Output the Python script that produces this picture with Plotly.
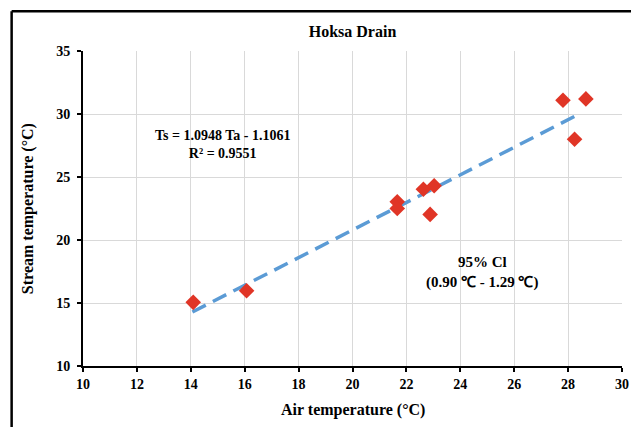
import plotly.graph_objects as go

air_temp = [14.09, 16.07, 21.66, 21.66, 22.63, 23.03, 22.88, 27.81, 28.66, 28.24]
stream_temp = [15.05, 15.97, 23.03, 22.50, 24.03, 24.30, 22.03, 31.09, 31.20, 28.00]
slope = 1.0948
intercept = -1.1061
trend_range = [14.06, 28.30]
x_ticks = list(range(10, 31, 2))
y_ticks = list(range(10, 36, 5))

FONT = "Liberation Serif"

trend_y = [slope * x + intercept for x in trend_range]

fig = go.Figure()
fig.add_trace(go.Scatter(
    x=trend_range, y=trend_y, mode="lines",
    line=dict(color="#5b9bd5", width=3.5, dash="15px,8px"),
    showlegend=False, hoverinfo="skip"))
fig.add_trace(go.Scatter(
    x=air_temp, y=stream_temp, mode="markers",
    marker=dict(symbol="diamond", size=12, color="#e03526"),
    showlegend=False))

axis_common = dict(
    showgrid=True, gridcolor="#d9d9d9", gridwidth=1,
    showline=True, linecolor="black", linewidth=2,
    ticks="outside", ticklen=4, tickwidth=2, tickcolor="black",
    zeroline=False, automargin=False,
    tickfont=dict(family=FONT, size=14, color="black", weight="bold"),
)

fig.update_xaxes(range=[10, 30], tickvals=x_ticks, **axis_common)
fig.update_yaxes(range=[10, 35], tickvals=y_ticks, ticklabelstandoff=4, **axis_common)

title_font = dict(family=FONT, size=16, color="black")
fig.add_annotation(x=0.5, y=-0.1395, xref="paper", yref="paper", showarrow=False,
                   text="<b>Air temperature (°C)</b>", font=title_font,
                   xanchor="center", yanchor="middle")
fig.add_annotation(x=-0.1027, y=0.5, xref="paper", yref="paper", showarrow=False,
                   text="<b>Stream temperature (°C)</b>", font=title_font,
                   textangle=-90, xanchor="center", yanchor="middle")

ann_font = dict(family=FONT, size=14, color="black")
fig.add_annotation(x=15.18, y=27.56, xref="x", yref="y", showarrow=False,
                   text="<b>Ts = 1.0948 Ta - 1.1061<br>R² = 0.9551</b>",
                   font=ann_font, align="center")
fig.add_annotation(x=24.81, y=17.45, xref="x", yref="y", showarrow=False,
                   text="<b>95% Cl<br>(0.90 ℃ - 1.29 ℃)</b>",
                   font=dict(family=FONT, size=15, color="black"), align="center")

border = dict(color="black", width=2.5)
fig.add_shape(type="line", xref="paper", yref="paper",
              x0=-0.1324, x1=1.2, y0=1.1259, y1=1.1259, line=border, layer="above")
fig.add_shape(type="line", xref="paper", yref="paper",
              x0=-0.1324, x1=-0.1324, y0=-0.5, y1=1.1259, line=border, layer="above")

fig.update_layout(
    width=631, height=427,
    margin=dict(l=83, r=9, t=51, b=61, autoexpand=False),
    paper_bgcolor="white", plot_bgcolor="white",
    title=dict(text="<b>Hoksa Drain</b>", x=0.5, xref="paper", y=1 - 31 / 427,
               yanchor="middle",
               font=dict(family=FONT, size=16, color="black")),
)

fig.write_html(
    "out.html",
    config={"displayModeBar": False},
    post_script="document.body.style.margin='0';document.body.style.overflow='hidden';",
)
